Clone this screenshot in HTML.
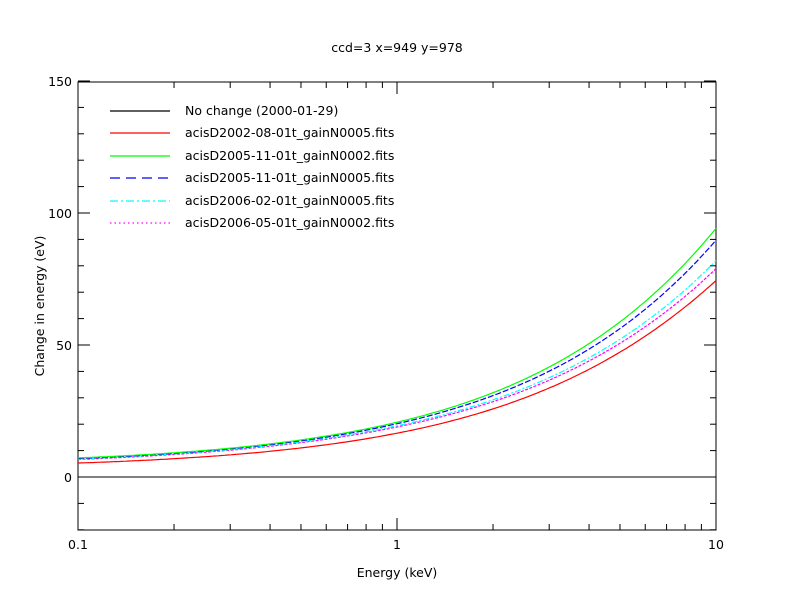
<!DOCTYPE html>
<html><head><meta charset="utf-8"><style>body{margin:0;background:#fff}svg{display:block}text{font-family:"DejaVu Sans","Liberation Sans",sans-serif;font-size:12.5px;fill:#000}</style></head>
<body>
<svg id="s" width="792" height="612" xmlns="http://www.w3.org/2000/svg">
<rect width="792" height="612" fill="#fff"/>
<text x="397" y="52" text-anchor="middle">ccd=3 x=949 y=978</text>
<text x="397" y="577" text-anchor="middle">Energy (keV)</text>
<text transform="translate(44,306) rotate(-90)" text-anchor="middle">Change in energy (eV)</text>
<g text-anchor="end">
<text x="72" y="86">150</text><text x="72" y="218">100</text><text x="72" y="350">50</text><text x="72" y="482">0</text>
</g>
<g text-anchor="middle">
<text x="78" y="549">0.1</text><text x="397" y="549">1</text><text x="716" y="549">10</text>
</g>
<rect x="78" y="82" width="638" height="448" fill="none" stroke="#000" stroke-width="1"/>
<line x1="78" y1="477" x2="716" y2="477" stroke="#000"/>
<g id="ticks" stroke="#000" stroke-width="1"></g>
<g id="curves" fill="none" stroke-width="1.2"></g>
<g stroke-width="1.2">
<line x1="110" y1="111" x2="170" y2="111" stroke="#000"/>
<line x1="110" y1="133" x2="170" y2="133" stroke="#f00"/>
<line x1="110" y1="156" x2="170" y2="156" stroke="#0f0"/>
<line x1="110" y1="178" x2="170" y2="178" stroke="#00f" stroke-dasharray="10,6"/>
<line x1="110" y1="201" x2="170" y2="201" stroke="#0ff" stroke-dasharray="8,3,2,3"/>
<line x1="110" y1="223" x2="170" y2="223" stroke="#f0f" stroke-dasharray="1.5,3"/>
</g>
<text x="185" y="115">No change (2000-01-29)</text>
<text x="185" y="137">acisD2002-08-01t_gainN0005.fits</text>
<text x="185" y="160">acisD2005-11-01t_gainN0002.fits</text>
<text x="185" y="182">acisD2005-11-01t_gainN0005.fits</text>
<text x="185" y="205">acisD2006-02-01t_gainN0005.fits</text>
<text x="185" y="227">acisD2006-05-01t_gainN0002.fits</text>
</svg>
<script>
function X(e){return 78+(Math.log10(e)+1)*319;}
function Y(v){return 477-v*2.64;}
var t=document.getElementById('ticks'),h='';
for(var d=0.1;d<10;d*=10){for(var k=1;k<10;k++){var x=X(d*k);var L=k==1?12:6;h+='<line x1="'+x+'" y1="530" x2="'+x+'" y2="'+(530-L)+'"/><line x1="'+x+'" y1="82" x2="'+x+'" y2="'+(82+L)+'"/>';}}
for(var v=-20;v<=150;v+=10){var y=Y(v);var L=v%50==0?12:6;h+='<line x1="78" y1="'+y+'" x2="'+(78+L)+'" y2="'+y+'"/><line x1="716" y1="'+y+'" x2="'+(716-L)+'" y2="'+y+'"/>';}
t.innerHTML=h;
var TS=[-1,-0.523,0,0.477,0.636,0.762,1];
var cs=[["#f00",[5.3,8.3,16.7,33.7,43,51.3,74.6],""],["#f0f",[6.6,10.8,18.0,38.6,46.2,53,79],"3,1.5"],["#0ff",[6.8,11,18.5,39.4,47.5,55,82],"6,2,2,2"],["#00f",[7,11.3,19.3,41.5,51.3,60.7,89.5],"6,2"],["#0f0",[7.2,11.7,19.7,42.8,54.5,64.4,93.6],""]];
var W=[3,1,2,2,1,1,3];
function fit(v){var N=4,A=[],B=[];for(var i=0;i<N;i++){A.push([0,0,0,0]);B.push(0);}
for(var p=0;p<TS.length;p++){for(var i=0;i<N;i++){for(var j=0;j<N;j++)A[i][j]+=W[p]*Math.pow(TS[p],i+j);B[i]+=W[p]*Math.pow(TS[p],i)*v[p];}}
for(var i=0;i<N;i++){for(var r=i+1;r<N;r++){var f=A[r][i]/A[i][i];for(var c=i;c<N;c++)A[r][c]-=f*A[i][c];B[r]-=f*B[i];}}
var x=[0,0,0,0];for(var i=N-1;i>=0;i--){var s=B[i];for(var c=i+1;c<N;c++)s-=A[i][c]*x[c];x[i]=s/A[i][i];}return x;}
var g=document.getElementById('curves'),s='';
cs.forEach(function(c){var v=c[1].map(Math.log);var co=fit(v);
var p='';for(var i=0;i<=200;i++){var tt=-1+i/100;var f=Math.exp(co[0]+co[1]*tt+co[2]*tt*tt+co[3]*tt*tt*tt);p+=(i?'L':'M')+(78+(tt+1)*319).toFixed(1)+','+Y(f).toFixed(1);}s+='<path d="'+p+'" stroke="'+c[0]+'"'+(c[2]?' stroke-dasharray="'+c[2]+'"':'')+'/>';});
g.innerHTML=s;
</script>
</body></html>
